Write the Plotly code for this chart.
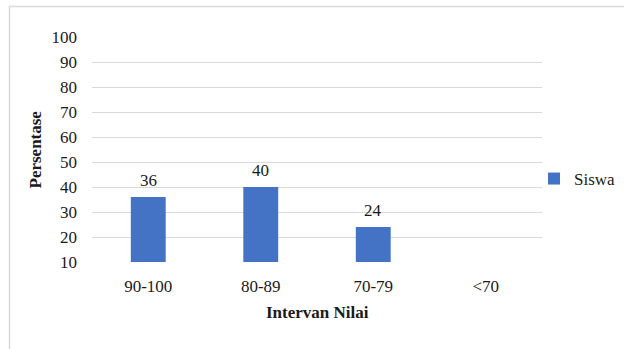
import plotly.graph_objects as go

# Distribusi nilai siswa per interval
categories = ["90-100", "80-89", "70-79", "<70"]
siswa = [36, 40, 24, 0]
y_ticks = [10, 20, 30, 40, 50, 60, 70, 80, 90, 100]

Y_MIN, Y_MAX = 10, 100
BAR_COLOR = "#4472C4"
GRID_COLOR = "#d9d9d9"
TEXT_COLOR = "#1a1a1a"
FONT = "Liberation Serif, Times New Roman, serif"
FS = 17

# plot area in pixels (624 x 349 canvas)
W, H = 624, 349
L, R, T, B = 92, 82, 37, 87
pw, ph = W - L - R, H - T - B


def px_x(x):
    return (x - L) / pw


def px_y(y):
    return (H - B - y) / ph


fig = go.Figure()
fig.add_trace(go.Bar(
    x=categories,
    y=siswa,
    name="Siswa",
    marker=dict(color=BAR_COLOR, line=dict(width=0)),
    width=0.31,
))

# value labels above the visible bars
for cat, val in zip(categories, siswa):
    if val > Y_MIN:
        fig.add_annotation(
            x=cat, y=val, text=str(val), showarrow=False,
            yanchor="bottom", yshift=5,
            font=dict(family=FONT, size=FS, color=TEXT_COLOR),
        )

# axis titles
fig.add_annotation(
    xref="paper", yref="paper", x=px_x(35), y=0.5, text="<b>Persentase</b>",
    textangle=-90, showarrow=False, xanchor="center", yanchor="middle",
    font=dict(family=FONT, size=FS, color=TEXT_COLOR),
)
fig.add_annotation(
    xref="paper", yref="paper", x=0.5, y=px_y(312), text="<b>Intervan Nilai</b>",
    showarrow=False, xanchor="center", yanchor="middle",
    font=dict(family=FONT, size=FS, color=TEXT_COLOR),
)

# chart frame
fig.add_shape(
    type="rect", xref="paper", yref="paper",
    x0=px_x(9.5), x1=px_x(640), y0=px_y(360), y1=px_y(6.5),
    line=dict(color=GRID_COLOR, width=1.5), layer="below",
)

fig.update_layout(
    width=W, height=H,
    margin=dict(l=L, r=R, t=T, b=B, autoexpand=False),
    paper_bgcolor="white",
    plot_bgcolor="white",
    font=dict(family=FONT, size=FS, color=TEXT_COLOR),
    showlegend=True,
    legend=dict(
        x=px_x(534), y=px_y(179), xanchor="left", yanchor="middle",
        font=dict(family=FONT, size=FS, color=TEXT_COLOR),
        bgcolor="rgba(0,0,0,0)", itemwidth=30,
    ),
    xaxis=dict(
        showgrid=False, showline=False, zeroline=False,
        ticks="", ticklabelstandoff=12,
    ),
    yaxis=dict(
        range=[Y_MIN, Y_MAX], tickvals=y_ticks,
        showgrid=True, gridcolor=GRID_COLOR, gridwidth=1,
        showline=False, zeroline=False, ticks="",
        ticklabelstandoff=14,
    ),
)

fig.write_html("out.html")
